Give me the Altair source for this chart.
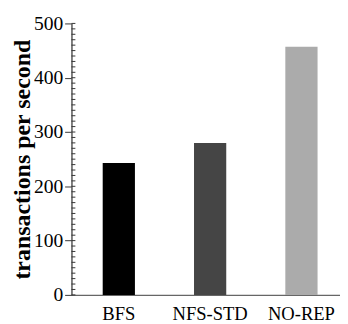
import altair as alt
import pandas as pd

categories = ["BFS", "NFS-STD", "NO-REP"]
values = [243, 280, 457]
colors = ["#000000", "#454545", "#ababab"]
minor_ticks = list(range(0, 501, 10))
major_ticks = [0, 100, 200, 300, 400, 500]

df = pd.DataFrame({"cat": categories, "val": values, "color": colors})
mdf = pd.DataFrame({"v": minor_ticks})

FONT = "Liberation Serif, Times New Roman, serif"
W, H = 275, 278

bars = alt.Chart(df).mark_bar().encode(
    x=alt.X("cat:N", sort=categories,
            scale=alt.Scale(range=[0, 284], paddingInner=0.647, paddingOuter=0.342),
            axis=alt.Axis(title=None, labelAngle=0, labelFont=FONT, labelFontSize=19,
                          labelColor="#000", ticks=False, domainColor="#666",
                          domainWidth=1.5, labelPadding=10, labelBaseline="top")),
    y=alt.Y("val:Q", scale=alt.Scale(domain=[0, 500], nice=False),
            axis=alt.Axis(title="transactions per second", values=major_ticks,
                          labelFont=FONT, labelFontSize=20, labelColor="#000",
                          labelPadding=2, tickSize=7, tickColor="#333",
                          domainColor="#555", domainWidth=1.5, grid=False,
                          titleFont=FONT, titleFontSize=24.5, titleFontWeight="bold",
                          titleColor="#000", titleX=-43,
                          titleAngle=270, titleAlign="center",
                          titleBaseline="alphabetic")),
    color=alt.Color("color:N", scale=None),
)

minor = alt.Chart(mdf).mark_rule(color="#333", strokeWidth=1).encode(
    y=alt.Y("v:Q"),
    x=alt.value(0),
    x2=alt.value(4),
)

chart = alt.layer(bars, minor).properties(
    width=W, height=H,
    autosize=alt.AutoSizeParams(type="none"),
    padding={"left": 65, "top": 12, "right": 0, "bottom": 26},
).configure_view(stroke=None)

chart.save("out.html", embed_options={"renderer": "svg", "actions": False})
